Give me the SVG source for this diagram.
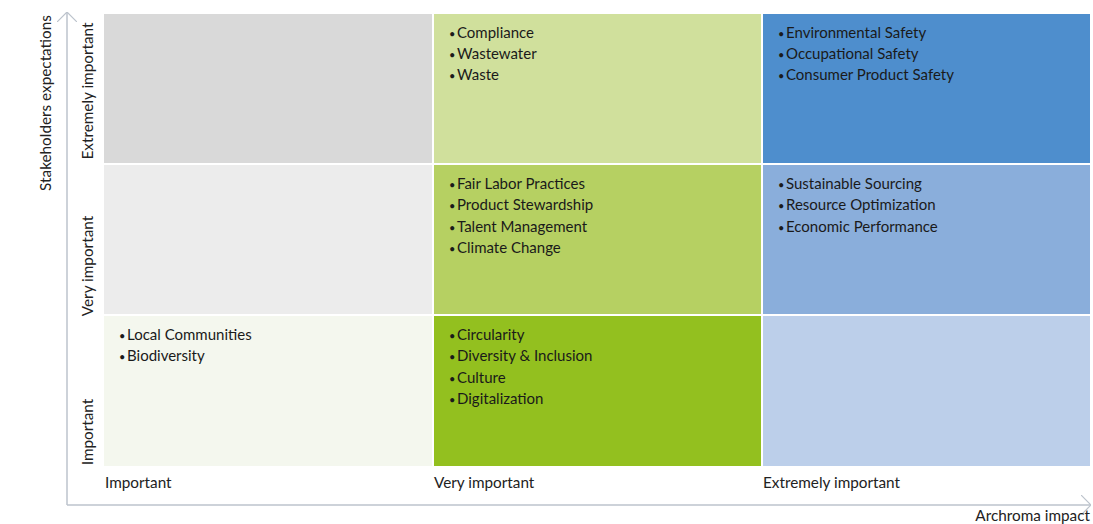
<svg xmlns="http://www.w3.org/2000/svg" width="1093" height="524" viewBox="0 0 1093 524">
  <style>
    text { font-family: Lato, "Noto Sans", "Liberation Sans", sans-serif; font-size: 15px; fill: #1a1a1a; }
    .b { font-size: 11px; }
    .axis { stroke: #bcc3cc; stroke-width: 1.5; fill: none; }
    .axlbl { font-size: 15.3px; fill: #222; }
  </style>
  <defs>
    <marker id="chev" viewBox="0 0 10 20" refX="10" refY="10" markerWidth="10" markerHeight="20" markerUnits="userSpaceOnUse" orient="auto">
      <path d="M0,0 L10,10 L0,20" fill="none" stroke="#bcc3cc" stroke-width="1.2"/>
    </marker>
  </defs>

  <!-- axes -->
  <g id="connectors">
    <line class="axis" x1="67" y1="505" x2="67" y2="12" marker-end="url(#chev)"/>
    <line class="axis" x1="67" y1="505" x2="1091" y2="505" marker-end="url(#chev)"/>
  </g>

  <!-- axis titles -->
  <text class="axlbl" transform="translate(51,103) rotate(-90)" text-anchor="middle">Stakeholders expectations</text>
  <text class="axlbl" x="1090" y="521" text-anchor="end">Archroma impact</text>

  <!-- row labels -->
  <text class="axlbl" transform="translate(93,91) rotate(-90)" text-anchor="middle">Extremely important</text>
  <text class="axlbl" transform="translate(93,266) rotate(-90)" text-anchor="middle">Very important</text>
  <text class="axlbl" transform="translate(93,432) rotate(-90)" text-anchor="middle">Important</text>

  <!-- column labels -->
  <text class="axlbl" x="105" y="488">Important</text>
  <text class="axlbl" x="434" y="488">Very important</text>
  <text class="axlbl" x="763" y="488">Extremely important</text>

  <!-- matrix cells -->
  <g id="cell-low-high"><rect x="104" y="14" width="328" height="149" fill="#d9d9d9"/></g>
  <g id="cell-low-mid"><rect x="104" y="165" width="328" height="149" fill="#ececec"/></g>
  <g id="cell-low-low">
    <rect x="104" y="316" width="328" height="150" fill="#f4f7ee"/>
    <text x="119" y="340"><tspan class="b">•</tspan><tspan x="127">Local Communities</tspan></text>
    <text x="119" y="361"><tspan class="b">•</tspan><tspan x="127">Biodiversity</tspan></text>
  </g>

  <g id="cell-mid-high">
    <rect x="434" y="14" width="327" height="149" fill="#d0e09c"/>
    <text x="449" y="38"><tspan class="b">•</tspan><tspan x="457">Compliance</tspan></text>
    <text x="449" y="59"><tspan class="b">•</tspan><tspan x="457">Wastewater</tspan></text>
    <text x="449" y="80"><tspan class="b">•</tspan><tspan x="457">Waste</tspan></text>
  </g>
  <g id="cell-mid-mid">
    <rect x="434" y="165" width="327" height="149" fill="#b6d062"/>
    <text x="449" y="189"><tspan class="b">•</tspan><tspan x="457">Fair Labor Practices</tspan></text>
    <text x="449" y="210"><tspan class="b">•</tspan><tspan x="457">Product Stewardship</tspan></text>
    <text x="449" y="232"><tspan class="b">•</tspan><tspan x="457">Talent Management</tspan></text>
    <text x="449" y="253"><tspan class="b">•</tspan><tspan x="457">Climate Change</tspan></text>
  </g>
  <g id="cell-mid-low">
    <rect x="434" y="316" width="327" height="150" fill="#93c01f"/>
    <text x="449" y="340"><tspan class="b">•</tspan><tspan x="457">Circularity</tspan></text>
    <text x="449" y="361"><tspan class="b">•</tspan><tspan x="457">Diversity &amp; Inclusion</tspan></text>
    <text x="449" y="383"><tspan class="b">•</tspan><tspan x="457">Culture</tspan></text>
    <text x="449" y="404"><tspan class="b">•</tspan><tspan x="457">Digitalization</tspan></text>
  </g>

  <g id="cell-high-high">
    <rect x="763" y="14" width="327" height="149" fill="#4e8ecd"/>
    <text x="778" y="38"><tspan class="b">•</tspan><tspan x="786">Environmental Safety</tspan></text>
    <text x="778" y="59"><tspan class="b">•</tspan><tspan x="786">Occupational Safety</tspan></text>
    <text x="778" y="80"><tspan class="b">•</tspan><tspan x="786">Consumer Product Safety</tspan></text>
  </g>
  <g id="cell-high-mid">
    <rect x="763" y="165" width="327" height="149" fill="#8aaedb"/>
    <text x="778" y="189"><tspan class="b">•</tspan><tspan x="786">Sustainable Sourcing</tspan></text>
    <text x="778" y="210"><tspan class="b">•</tspan><tspan x="786">Resource Optimization</tspan></text>
    <text x="778" y="232"><tspan class="b">•</tspan><tspan x="786">Economic Performance</tspan></text>
  </g>
  <g id="cell-high-low"><rect x="763" y="316" width="327" height="150" fill="#bccfea"/></g>
</svg>
